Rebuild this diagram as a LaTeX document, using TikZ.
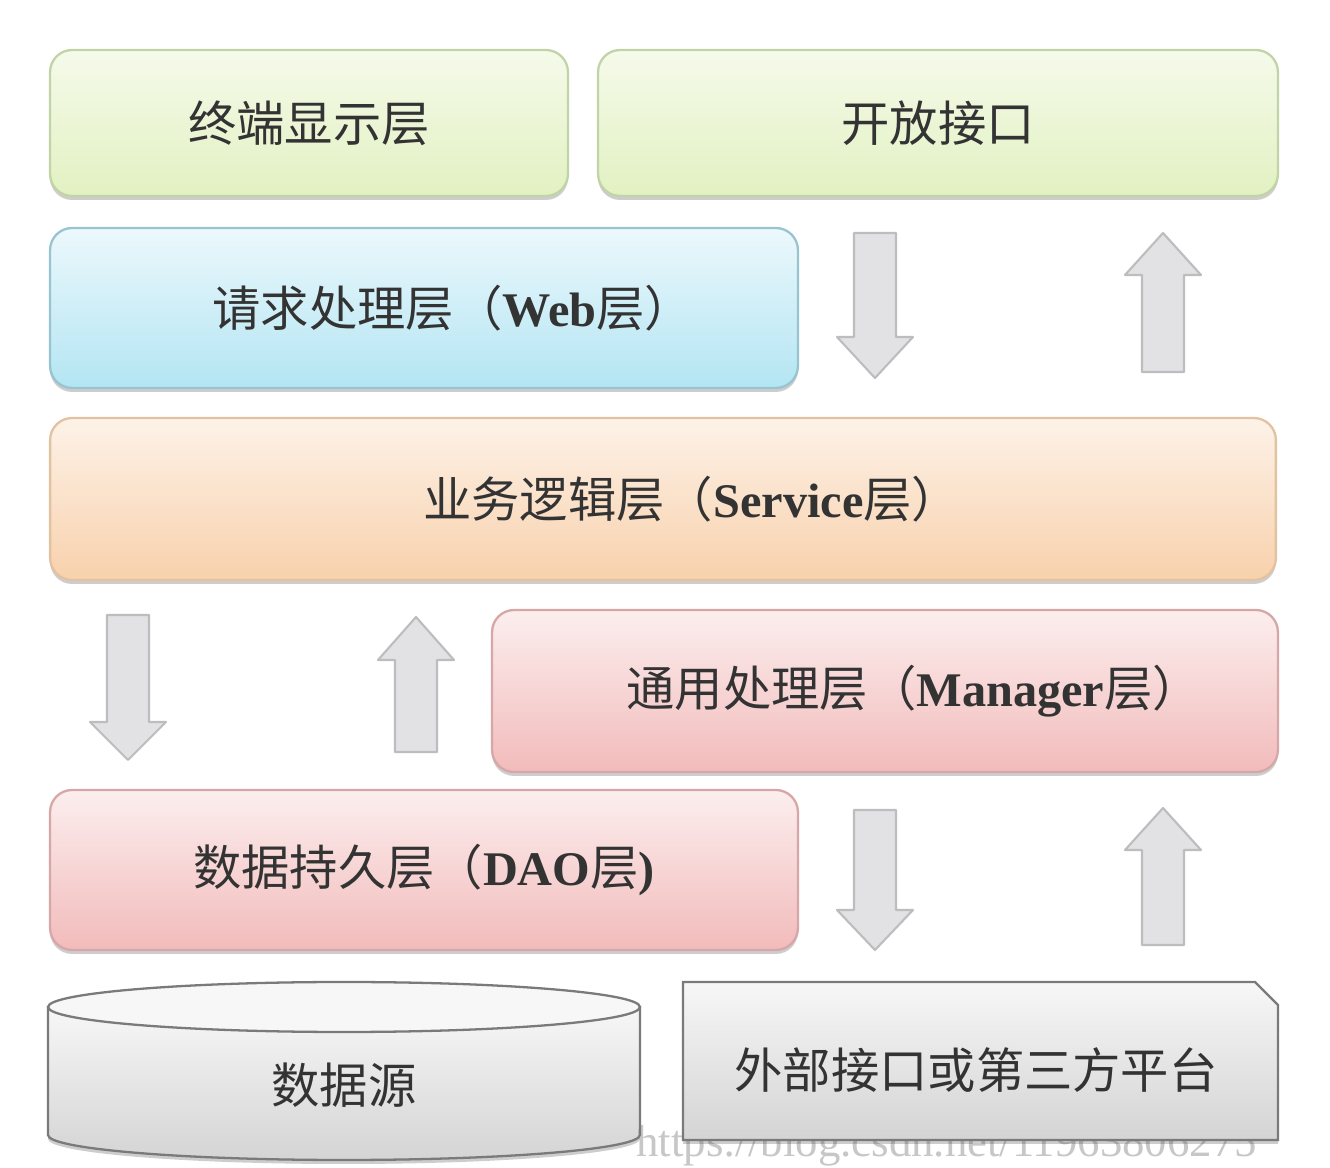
\documentclass[tikz,border=0pt]{standalone}
\usepackage{fontspec}
\newfontfamily\cjk{Noto Sans CJK SC}
\newfontfamily\lat{Liberation Serif}
\usetikzlibrary{shadows}
\definecolor{txt}{HTML}{333333}
\definecolor{gTop}{HTML}{F5FAEA}
\definecolor{gBot}{HTML}{E2F1C2}
\definecolor{gBor}{HTML}{C3D3A8}
\definecolor{bTop}{HTML}{ECF8FC}
\definecolor{bBot}{HTML}{B3E5F3}
\definecolor{bBor}{HTML}{98C3D0}
\definecolor{oTop}{HTML}{FDF2E8}
\definecolor{oBot}{HTML}{F8D1AC}
\definecolor{oBor}{HTML}{E3C2A2}
\definecolor{pTop}{HTML}{FCEEEE}
\definecolor{pBot}{HTML}{F2BBBB}
\definecolor{pBor}{HTML}{D7A7A7}
\definecolor{cTop}{HTML}{F7F7F7}
\definecolor{cBot}{HTML}{D4D4D4}
\definecolor{cBor}{HTML}{7A7A7A}
\definecolor{aFill}{HTML}{E2E2E4}
\definecolor{aBor}{HTML}{BDBDC0}
\newcommand{\lw}[1]{{\lat\bfseries #1}}
\newcommand{\pushr}{\hspace*{1.15cm}}
\newcommand{\blkdown}[4]{% cx, top, headbase, tip
  \path[blockarrow] ({#1-21},#2) -- ({#1+21},#2) -- ({#1+21},#3) -- ({#1+38},#3) -- (#1,#4) -- ({#1-38},#3) -- ({#1-21},#3) -- cycle;}
\newcommand{\blkup}[4]{% cx, bottom, headbase, tip
  \path[blockarrow] ({#1-21},#2) -- ({#1+21},#2) -- ({#1+21},#3) -- ({#1+38},#3) -- (#1,#4) -- ({#1-38},#3) -- ({#1-21},#3) -- cycle;}
\begin{document}
\begin{tikzpicture}[x=0.02cm,y=-0.02cm,
  shd/.style={drop shadow={shadow xshift=0pt,shadow yshift=-0.08cm,opacity=0.28,fill=black!70}},
  layer/.style={shd,rounded corners=0.44cm,line width=1.3pt,inner sep=0pt,
    font=\cjk\fontsize{27.5}{32}\selectfont,text=txt},
  greenbox/.style={layer,draw=gBor,top color=gTop,bottom color=gBot},
  bluebox/.style={layer,draw=bBor,top color=bTop,bottom color=bBot},
  orangebox/.style={layer,draw=oBor,top color=oTop,bottom color=oBot},
  pinkbox/.style={layer,draw=pBor,top color=pTop,bottom color=pBot},
  graybody/.style={shd,draw=cBor,line width=1.3pt,top color=cTop,bottom color=cBot},
  lbl/.style={inner sep=0pt,text=txt,font=\cjk\fontsize{27.5}{32}\selectfont},
  blockarrow/.style={fill=aFill,draw=aBor,line width=1.2pt,line join=round}
]
\useasboundingbox[fill=white] (0,0) rectangle (1330,1168);

% watermark
\node[inner sep=0pt,text=black!22,font=\lat\fontsize{25.5}{28}\selectfont,anchor=base west] (wm) at (636,1157) {https://blog.csdn.net/11963806275};

% layers
\node[greenbox,minimum width=10.36cm,minimum height=2.92cm] (term) at (309,123) {终端显示层};
\node[greenbox,minimum width=13.6cm,minimum height=2.92cm] (open) at (938,123) {开放接口};
\node[bluebox,minimum width=14.96cm,minimum height=3.2cm] (web) at (424,308) {\pushr 请求处理层（\lw{Web}层）};
\node[orangebox,minimum width=24.52cm,minimum height=3.24cm] (svc) at (663,499) {\pushr 业务逻辑层（\lw{Service}层）};
\node[pinkbox,minimum width=15.72cm,minimum height=3.24cm] (mgr) at (885,691) {\pushr 通用处理层（\lw{Manager}层）};
\node[pinkbox,minimum width=14.96cm,minimum height=3.2cm] (dao) at (424,870) {数据持久层（\lw{DAO}层\lw{)}};

% data source cylinder
\path[graybody] (48,1007) -- (48,1135) arc[start angle=180,end angle=360,x radius=5.92cm,y radius=0.5cm] -- (640,1007) -- cycle;
\path[draw=cBor,line width=1.3pt,fill=cTop] (344,1007) ellipse[x radius=5.92cm,y radius=0.5cm];
\node[lbl] (ds) at (344,1085) {数据源};

% external interface box
\path[graybody] (683,982) -- (1255,982) -- (1278,1005) -- (1278,1140) -- (683,1140) -- cycle;
\node[lbl] (ext) at (976,1070) {外部接口或第三方平台};

% block arrows
\blkdown{875}{233}{337}{378}
\blkup{1163}{372}{275}{233}
\blkdown{128}{615}{722}{760}
\blkup{416}{752}{660}{617}
\blkdown{875}{810}{910}{950}
\blkup{1163}{945}{850}{808}
\end{tikzpicture}
\end{document}
